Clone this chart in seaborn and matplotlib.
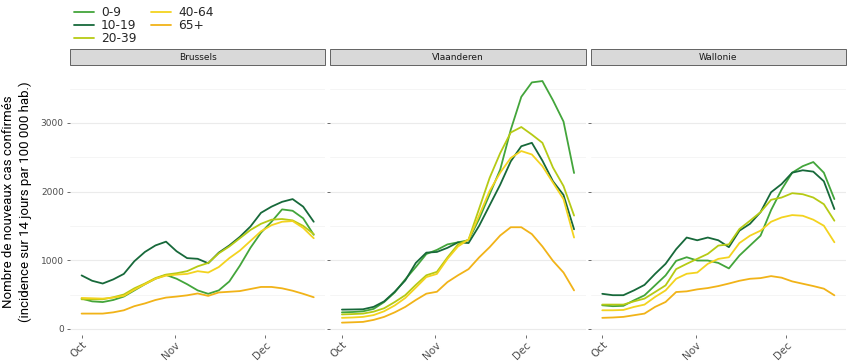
import pandas as pd
import matplotlib
matplotlib.use('Agg')
import matplotlib.pyplot as plt
import matplotlib.dates as mdates
from matplotlib.ticker import MultipleLocator
from matplotlib.patches import Rectangle
import seaborn as sns

# 14-day incidence per 100 000, sampled every 3.5 days (Oct 1 -> Dec 17, 2020)
dates = pd.date_range('2020-10-01', '2020-12-17', freq='84h')

age_groups = ['0-9', '10-19', '20-39', '40-64', '65+']
regions = ['Brussels', 'Vlaanderen', 'Wallonie']
colors = ['#43a53b', '#17693a', '#b6ca14', '#f3d31f', '#f1b318']

bru_0_9 = [440, 400, 390, 420, 470, 560, 650, 730, 785, 730, 650, 560, 510, 560, 690, 920, 1180, 1400, 1560, 1740, 1720, 1610, 1370]
bru_10_19 = [778, 700, 660, 720, 800, 985, 1120, 1215, 1270, 1130, 1030, 1020, 955, 1110, 1215, 1340, 1490, 1690, 1780, 1850, 1890, 1780, 1560]
bru_20_39 = [430, 430, 430, 460, 500, 590, 660, 740, 790, 810, 840, 910, 960, 1100, 1200, 1320, 1440, 1530, 1590, 1600, 1580, 1500, 1380]
bru_40_64 = [450, 445, 440, 455, 480, 570, 650, 730, 775, 790, 800, 840, 820, 900, 1030, 1140, 1280, 1420, 1510, 1560, 1570, 1470, 1320]
bru_65 = [222, 222, 222, 240, 270, 330, 370, 420, 455, 470, 488, 515, 480, 530, 540, 550, 580, 610, 610, 590, 555, 510, 460]

vla_0_9 = [240, 245, 255, 290, 390, 530, 720, 900, 1090, 1150, 1230, 1260, 1290, 1600, 1960, 2320, 2900, 3380, 3590, 3610, 3330, 3020, 2270]
vla_10_19 = [280, 282, 285, 320, 400, 540, 705, 960, 1110, 1120, 1180, 1260, 1250, 1500, 1800, 2100, 2440, 2660, 2710, 2450, 2150, 1950, 1450]
vla_20_39 = [210, 215, 222, 250, 300, 390, 490, 640, 780, 830, 1040, 1230, 1300, 1750, 2200, 2560, 2860, 2940, 2830, 2710, 2350, 2080, 1650]
vla_40_64 = [160, 165, 174, 200, 256, 340, 449, 600, 754, 800, 1019, 1200, 1300, 1650, 2010, 2275, 2490, 2590, 2540, 2370, 2130, 1890, 1330]
vla_65 = [90, 95, 101, 130, 174, 240, 319, 420, 512, 540, 681, 780, 870, 1040, 1190, 1360, 1480, 1480, 1380, 1200, 990, 820, 560]

wal_0_9 = [343, 330, 335, 415, 488, 633, 778, 990, 1043, 995, 995, 960, 880, 1068, 1213, 1357, 1730, 2030, 2275, 2370, 2430, 2275, 1890]
wal_10_19 = [510, 490, 490, 560, 640, 800, 947, 1160, 1330, 1290, 1330, 1290, 1190, 1430, 1530, 1700, 1990, 2110, 2275, 2310, 2290, 2150, 1745]
wal_20_39 = [353, 353, 353, 400, 440, 536, 633, 870, 947, 1020, 1092, 1213, 1230, 1454, 1575, 1700, 1880, 1913, 1976, 1961, 1913, 1816, 1575]
wal_40_64 = [270, 270, 275, 319, 353, 464, 560, 729, 802, 820, 947, 1019, 1043, 1250, 1357, 1430, 1560, 1623, 1657, 1647, 1590, 1502, 1261]
wal_65 = [160, 165, 174, 198, 222, 319, 391, 536, 546, 575, 594, 623, 660, 700, 729, 739, 768, 745, 691, 657, 623, 585, 488]

series = {
    'Brussels': [bru_0_9, bru_10_19, bru_20_39, bru_40_64, bru_65],
    'Vlaanderen': [vla_0_9, vla_10_19, vla_20_39, vla_40_64, vla_65],
    'Wallonie': [wal_0_9, wal_10_19, wal_20_39, wal_40_64, wal_65],
}

rows = []
for region in regions:
    for age, values in zip(age_groups, series[region]):
        for d, v in zip(dates, values):
            rows.append({'region': region, 'age': age, 'date': d, 'cases': v})
df = pd.DataFrame(rows)

sns.set_theme(style='white')
plt.rcParams['font.family'] = ['DejaVu Sans']

fig, axes = plt.subplots(1, 3, figsize=(8.5, 3.64), dpi=100, sharey=True)
fig.subplots_adjust(left=70/850, right=846/850, bottom=1-335/364, top=1-68/364, wspace=5/255)

span = dates[-1] - dates[0]
for i, (ax, region) in enumerate(zip(axes, regions)):
    sns.lineplot(data=df[df['region'] == region], x='date', y='cases', hue='age',
                 hue_order=age_groups, palette=colors, linewidth=1.3, ax=ax,
                 legend=(i == 0))
    ax.set_xlim(dates[0] - span * 0.05, dates[-1] + span * 0.05)
    ax.set_ylim(-90, 3800)
    ax.yaxis.set_major_locator(MultipleLocator(1000))
    ax.yaxis.set_minor_locator(MultipleLocator(500))
    ax.grid(which='major', axis='y', color='#ebebeb', lw=0.8)
    ax.grid(which='minor', axis='y', color='#f4f4f4', lw=0.6)
    ax.grid(axis='x', visible=False)
    ax.xaxis.set_major_locator(mdates.MonthLocator())
    ax.xaxis.set_major_formatter(mdates.DateFormatter('%b'))
    ax.tick_params(which='major', length=2.5, width=0.6, color='#555555',
                   labelcolor='#4d4d4d', pad=2)
    ax.tick_params(which='minor', length=0)
    ax.tick_params(axis='y', labelsize=6.5, left=True)
    ax.tick_params(axis='x', labelsize=7.5, bottom=True, pad=1)
    for lab in ax.get_xticklabels():
        lab.set_rotation(45)
        lab.set_ha('right')
        lab.set_rotation_mode('anchor')
    for s in ax.spines.values():
        s.set_visible(False)
    ax.set_xlabel('')
    ax.set_ylabel('')

    # facet strip
    ax.add_patch(Rectangle((0, 1 + 3/267), 1, 16/267, transform=ax.transAxes,
                           facecolor='#d9d9d9', edgecolor='#4d4d4d', lw=0.6,
                           clip_on=False))
    ax.text(0.5, 1 + 11/267, region, transform=ax.transAxes, ha='center',
            va='center', fontsize=6.5, color='#1a1a1a')

handles, labels = axes[0].get_legend_handles_labels()
axes[0].get_legend().remove()
fig.legend(handles, labels, ncol=2, loc='upper left', bbox_to_anchor=(68/850, 1.0),
           frameon=False, fontsize=8.8, handlelength=1.6, labelspacing=0.0,
           columnspacing=1.2, handletextpad=0.6, borderaxespad=0.1)

axes[0].set_ylabel('Nombre de nouveaux cas confirmés\n(incidence sur 14 jours par 100 000 hab.)',
                   fontsize=9.5, family=['Roboto', 'DejaVu Sans'],
                   linespacing=1.4, labelpad=6, color='black')

fig.savefig('out.png', dpi=100)
